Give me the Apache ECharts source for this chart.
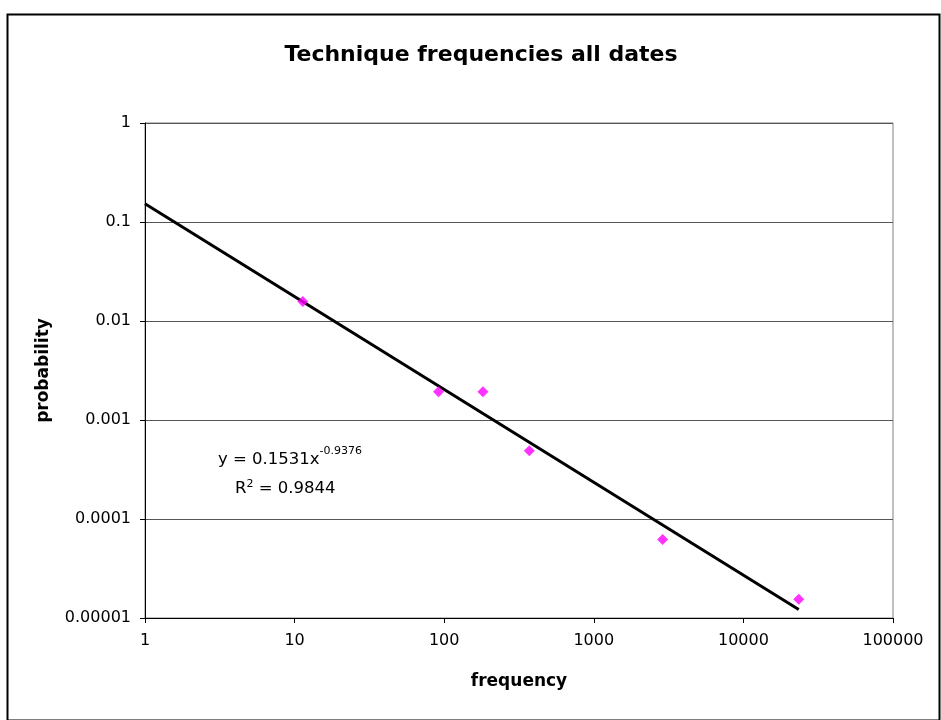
<!DOCTYPE html>
<html>
<head>
<meta charset="utf-8">
<script src="https://cdn.jsdelivr.net/npm/echarts@6/dist/echarts.min.js"></script>
<style>
html,body{margin:0;padding:0;background:#fff;}
#chart{width:941px;height:720px;}
</style>
</head>
<body>
<div id="chart"></div>
<script>
// ---- data ----
var frequency   = [11.35, 91.6, 181.5, 370.5, 2885, 23440];
var probability = [0.0157, 0.00193, 0.00193, 0.000489, 0.0000622, 0.0000155];
// power trendline as drawn (endpoints)
var trendX = [1, 23440];
var trendY = [0.1531, 0.0000122];
var xTickLabels = ['1', '10', '100', '1000', '10000', '100000'];
var yTickLabels = ['0.00001', '0.0001', '0.001', '0.01', '0.1', '1'];
var titleText = 'Technique frequencies all dates';
var xName = 'frequency';
var yName = 'probability';

var points = frequency.map(function (f, i) { return [f, probability[i]]; });
var trend = trendX.map(function (x, i) { return [x, trendY[i]]; });

var FONT = 'DejaVu Sans';
var chart = echarts.init(document.getElementById('chart'), null, {renderer: 'canvas'});
chart.setOption({
  animation: false,
  backgroundColor: '#ffffff',
  title: {
    text: titleText,
    left: 476,
    top: 39,
    textAlign: 'center',
    textStyle: {fontFamily: FONT, fontSize: 22, fontWeight: 'bold', color: '#000'}
  },
  grid: {
    left: 145, top: 123, right: 48, bottom: 102,
    show: true, borderColor: '#808080', borderWidth: 1, backgroundColor: 'transparent'
  },
  xAxis: {
    type: 'log', logBase: 10, min: 1, max: 100000,
    name: xName, nameLocation: 'middle', nameGap: 55,
    nameTextStyle: {fontFamily: FONT, fontSize: 17, fontWeight: 'bold', color: '#000'},
    axisLine: {show: true, lineStyle: {color: '#000', width: 1}},
    axisTick: {show: true, inside: false, length: 5, lineStyle: {color: '#000'}},
    minorTick: {show: false},
    splitLine: {show: false},
    axisLabel: {
      margin: 15, fontFamily: FONT, fontSize: 16, color: '#000',
      formatter: function (v, i) { return xTickLabels[i]; }
    }
  },
  yAxis: {
    type: 'log', logBase: 10, min: 0.00001, max: 1,
    name: yName, nameLocation: 'middle', nameGap: 93, nameRotate: 90,
    nameTextStyle: {fontFamily: FONT, fontSize: 17, fontWeight: 'bold', color: '#000'},
    axisLine: {show: true, lineStyle: {color: '#000', width: 1}},
    axisTick: {show: true, inside: false, length: 5, lineStyle: {color: '#000'}},
    splitLine: {show: true, lineStyle: {color: '#555', width: 1}},
    axisLabel: {
      margin: 14, fontFamily: FONT, fontSize: 16, color: '#000',
      formatter: function (v, i) { return yTickLabels[i]; }
    }
  },
  series: [
    {
      type: 'line', data: trend, showSymbol: false, symbol: 'none',
      lineStyle: {color: '#000', width: 3}, z: 2, silent: true
    },
    {
      type: 'scatter', data: points, symbol: 'diamond', symbolSize: 11,
      itemStyle: {color: '#FF00FF'}, z: 3
    }
  ],
  graphic: [
    {
      type: 'rect', left: 5, top: 12, z: -1,
      shape: {width: 932, height: 706},
      style: {fill: 'none', stroke: '#000', lineWidth: 2}
    },
    {
      type: 'text', left: 218, top: 446,
      style: {
        text: '{a|y = 0.1531x}{s|-0.9376}',
        rich: {
          a: {fontFamily: FONT, fontSize: 16.5, color: '#000', verticalAlign: 'bottom', lineHeight: 22},
          s: {fontFamily: FONT, fontSize: 11, color: '#000', verticalAlign: 'top', padding: [0,0,11,0], lineHeight: 22}
        }
      }
    },
    {
      type: 'text', left: 235, top: 479,
      style: {
        text: '{a|R}{s|2}{a| = 0.9844}',
        rich: {
          a: {fontFamily: FONT, fontSize: 16.5, color: '#000', lineHeight: 22},
          s: {fontFamily: FONT, fontSize: 11, color: '#000', padding: [0,0,9,0], lineHeight: 22}
        }
      }
    }
  ]
});
</script>
</body>
</html>
